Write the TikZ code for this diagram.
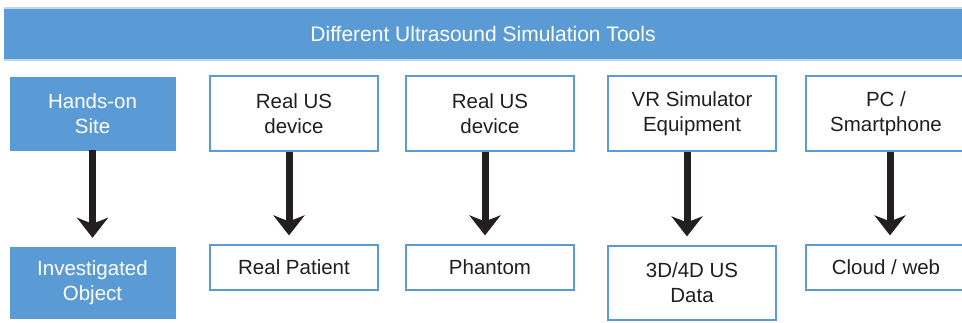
\documentclass[tikz,border=0pt]{standalone}
\usepackage{fontspec}
\setmainfont{Liberation Sans}
\usepackage{tikz}
\usetikzlibrary{arrows.meta}
\definecolor{usblue}{HTML}{5B9BD5}
\definecolor{uspale}{HTML}{BDD7EE}
\definecolor{ustext}{HTML}{231F20}

\begin{document}
\begin{tikzpicture}[x=1pt,y=-1pt,
	bluebox/.style={fill=usblue,draw=usblue,text=white,align=center,inner sep=0pt,font=\fontsize{20.5}{25}\selectfont},
	whitebox/.style={fill=white,draw=usblue,line width=1.2pt,text=ustext,align=center,inner sep=0pt,font=\fontsize{20.5}{25}\selectfont},
	downarrow/.style={draw=ustext,line width=7pt,-{Stealth[length=20pt,width=31pt,inset=6pt]},shorten >=9pt}]
				\useasboundingbox (0,0) rectangle (962,322);
				\node [fill=usblue,minimum width=958pt,minimum height=52pt,inner sep=0pt,text=white,font=\fontsize{21}{25}\selectfont] (tools) at (483,34) {Different Ultrasound Simulation Tools};
				\draw [uspale,line width=1.5pt] (tools.north west) -- (tools.north east);
				\draw [uspale,line width=1.5pt] (tools.south west) -- (tools.south east);
				% top row
				\node [bluebox,minimum width=165pt,minimum height=73pt] (site) at (92.5,113.5) {Hands-on\\Site};
				\node [whitebox,minimum width=168pt,minimum height=75pt] (device) at (294,113.5) {Real US\\device};
				\node [whitebox,minimum width=168pt,minimum height=75pt] (devicetwo) at (490,113.5) {Real US\\device};
				\node [whitebox,minimum width=168pt,minimum height=75pt] (vr) at (692,113.5) {VR Simulator\\Equipment};
				\node [whitebox,minimum width=160pt,minimum height=75pt] (pc) at (886,113.5) {PC /\\Smartphone};
				% bottom row
				\node [bluebox,minimum width=165pt,minimum height=71pt] (object) at (92.5,282.5) {Investigated\\Object};
				\node [whitebox,minimum width=168pt,minimum height=45pt] (patient) at (294,267.5) {Real Patient};
				\node [whitebox,minimum width=168pt,minimum height=45pt] (phantom) at (490,267.5) {Phantom};
				\node [whitebox,minimum width=168pt,minimum height=74pt] (data) at (692,283) {3D/4D US\\Data};
				\node [whitebox,minimum width=160pt,minimum height=45pt] (cloud) at (886,267.5) {Cloud / web};
				% arrows
				\draw [downarrow] (site) -- (object);
				\draw [downarrow] ([xshift=-5pt]device.south) -- ([xshift=-5pt]patient.north);
				\draw [downarrow] ([xshift=-5pt]devicetwo.south) -- ([xshift=-5pt]phantom.north);
				\draw [downarrow] ([xshift=-5pt]vr.south) -- ([xshift=-5pt]data.north);
				\draw [downarrow] ([xshift=4pt]pc.south) -- ([xshift=4pt]cloud.north);
\end{tikzpicture}
\end{document}
